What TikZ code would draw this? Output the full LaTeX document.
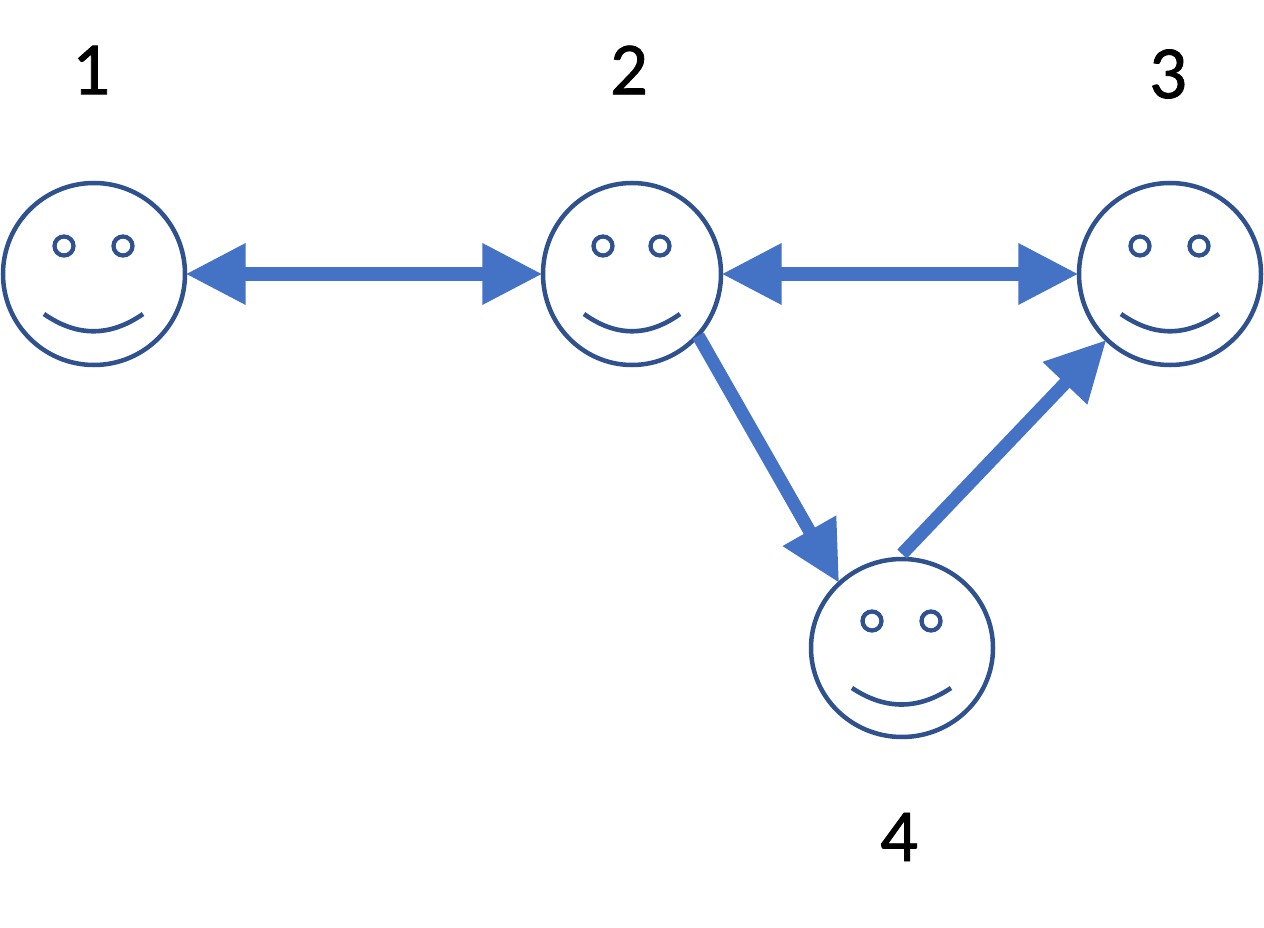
\documentclass[tikz,border=0pt]{standalone}
\usepackage{fontspec}
\setmainfont{Carlito}
\newfontfamily\labelfont[FakeBold=1.0]{Carlito}
\usetikzlibrary{arrows.meta,shapes.geometric}
\definecolor{faceline}{HTML}{2F528F}
\definecolor{arrowblue}{HTML}{4472C4}
\tikzset{
  face/.style={draw=faceline,line width=4.5pt,ellipse,inner sep=0pt,outer sep=0.6pt},
  eye/.style={draw=faceline,line width=4.3pt,circle,inner sep=0pt,outer sep=0pt,minimum size=19pt},
  smile/.style={draw=faceline,line width=4.6pt},
  label/.style={font=\labelfont\fontsize{75}{75}\selectfont,text=black,inner sep=0pt},
  duallink/.style={draw=arrowblue,line width=13pt,{Triangle[length=60pt,width=58pt]}-{Triangle[length=60pt,width=58pt]},arrowblue},
  slantlink/.style={draw=arrowblue,line width=13pt,-{Triangle[length=60pt,width=58pt]},arrowblue}
}
\begin{document}
\begin{tikzpicture}[x=1pt,y=-1pt]
\useasboundingbox (0,0) rectangle (1264,928);
\node[face,minimum width=182pt,minimum height=182pt] (f1) at (94,274) {};
\node[face,minimum width=178pt,minimum height=182pt] (f2) at (632,274) {};
\node[face,minimum width=182pt,minimum height=182pt] (f3) at (1170,274) {};
\node[face,minimum width=182pt,minimum height=178pt] (f4) at (902,648) {};
% eyes
\node[eye] (e1a) at (64,246) {};
\node[eye] (e1b) at (123,246) {};
\node[eye] (e2a) at (603,246) {};
\node[eye] (e2b) at (660,246) {};
\node[eye] (e3a) at (1140,246) {};
\node[eye] (e3b) at (1199,246) {};
\node[eye] (e4a) at (872,621) {};
\node[eye] (e4b) at (931,621) {};
% smiles
\draw[smile] (44,314) .. controls (77,337) and (110,337) .. (143,314);
\draw[smile] (584,314) .. controls (616,337) and (648,337) .. (680,314);
\draw[smile] (1121,314) .. controls (1154,337) and (1186,337) .. (1219,314);
\draw[smile] (852,688) .. controls (885,710) and (918,710) .. (951,688);
% labels
\node[label] (l1) at (91,70) {1};
\node[label] (l2) at (629,70) {2};
\node[label] (l3) at (1168,74) {3};
\node[label] (l4) at (899,837) {4};
% connectors
\coordinate (c4top) at (902,554);
\draw[duallink] (f1.east) -- (f2.west);
\draw[duallink] (f2.east) -- (f3.west);
\draw[slantlink] (f2.-43) -- (f4.134);
\draw[slantlink] (c4top) -- (f3.226);
\end{tikzpicture}
\end{document}
